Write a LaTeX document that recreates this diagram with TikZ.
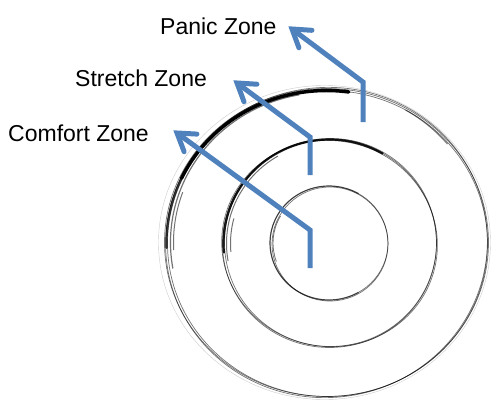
\documentclass[tikz,border=0pt]{standalone}
\usepackage{fontspec}
\setmainfont{Liberation Sans}
\usetikzlibrary{arrows.meta,calc}
\definecolor{zoneblue}{HTML}{4F81BD}
\begin{document}
\begin{tikzpicture}[x=1pt,y=-1pt,
  sketch/.style={draw=black, line width=0.7pt, opacity=0.55},
  faint/.style={draw=black, line width=0.4pt, opacity=0.2},
  heavy/.style={draw=black, line width=3.5pt, line cap=round},
  zoneline/.style={draw=zoneblue, line width=5pt, line join=miter},
  zonechev/.style={draw=zoneblue, line width=5pt, line join=miter, line cap=round},
  zonelabel/.style={anchor=base west, font=\fontsize{23}{26}\selectfont, inner sep=0pt}]
\useasboundingbox (0,0) rectangle (491,400);

% outer circle (panic zone border)
\coordinate (co) at (326.5,242.5);
\draw[sketch] (co) ellipse [x radius=162pt, y radius=154pt];
\draw[sketch] ($(co)+(1,1)$) ellipse [x radius=160pt, y radius=153pt];
\draw[faint] ($(co)+(-2,0)$) ellipse [x radius=166pt, y radius=157pt];
\draw[sketch, rotate around={8:(co)}] (co) ellipse [x radius=161pt, y radius=155pt];
\draw[heavy] (co) ++(82:160pt and 152pt) arc[start angle=82, end angle=155, x radius=160pt, y radius=152pt];
\draw[heavy, line width=2.2pt, opacity=0.8] (co) ++(150:160pt and 152pt) arc[start angle=150, end angle=182, x radius=160pt, y radius=152pt];
\draw[sketch, line width=1.2pt] (co) ++(100:156pt and 150pt) arc[start angle=100, end angle=190, x radius=156pt, y radius=150pt];
\draw[sketch, line width=1pt] (co) ++(160:153pt and 147pt) arc[start angle=160, end angle=183, x radius=153pt, y radius=147pt];
\draw[sketch, line width=1pt] (co) ++(60:158pt and 153pt) arc[start angle=60, end angle=40, x radius=158pt, y radius=153pt];

% middle circle (stretch zone border)
\coordinate (cm) at (329.5,243.5);
\draw[sketch] (cm) ellipse [x radius=107pt, y radius=104pt];
\draw[sketch] ($(cm)+(1,-1)$) ellipse [x radius=106pt, y radius=104pt];
\draw[sketch, rotate around={-10:(cm)}] (cm) ellipse [x radius=108pt, y radius=103pt];
\draw[heavy, line width=2.2pt, opacity=0.9] (cm) ++(60:106pt and 104pt) arc[start angle=60, end angle=185, x radius=106pt, y radius=104pt];
\draw[sketch, line width=1pt] (cm) ++(120:103pt and 101pt) arc[start angle=120, end angle=190, x radius=103pt, y radius=101pt];
\draw[sketch, line width=1pt] (cm) ++(165:99pt and 97pt) arc[start angle=165, end angle=185, x radius=99pt, y radius=97pt];

% inner circle (comfort zone border)
\coordinate (ci) at (329,243);
\draw[sketch] (ci) ellipse [x radius=59pt, y radius=57pt];
\draw[sketch] ($(ci)+(1,1)$) ellipse [x radius=58pt, y radius=57pt];
\draw[sketch, line width=1.2pt] (ci) ++(60:59pt and 57pt) arc[start angle=60, end angle=300, x radius=59pt, y radius=57pt];
\draw[sketch, line width=0.8pt] (ci) ++(150:56pt and 54pt) arc[start angle=150, end angle=200, x radius=56pt, y radius=54pt];

% labels
\node[zonelabel] (comfort) at (8,141) {Comfort Zone};
\node[zonelabel] (stretch) at (75,86) {Stretch Zone};
\node[zonelabel] (panic) at (160,34) {Panic Zone};

% arrows
\coordinate (cs) at (310,268); \coordinate (cb) at (310,230); \coordinate (ct) at (177,133);
\coordinate (ss) at (310,175); \coordinate (sb) at (310,137); \coordinate (st) at (237,83);
\coordinate (ps) at (363,122); \coordinate (pb) at (363,82);  \coordinate (pt) at (292,29);
\draw[zoneline] (cs) -- (cb) -- (ct);
\draw[zoneline] (ss) -- (sb) -- (st);
\draw[zoneline] (ps) -- (pb) -- (pt);
\draw[zonechev] ($(ct)!20pt!33:(cb)$) -- (ct) -- ($(ct)!20pt!-33:(cb)$);
\draw[zonechev] ($(st)!20pt!33:(sb)$) -- (st) -- ($(st)!20pt!-33:(sb)$);
\draw[zonechev] ($(pt)!20pt!33:(pb)$) -- (pt) -- ($(pt)!20pt!-33:(pb)$);
\end{tikzpicture}
\end{document}
